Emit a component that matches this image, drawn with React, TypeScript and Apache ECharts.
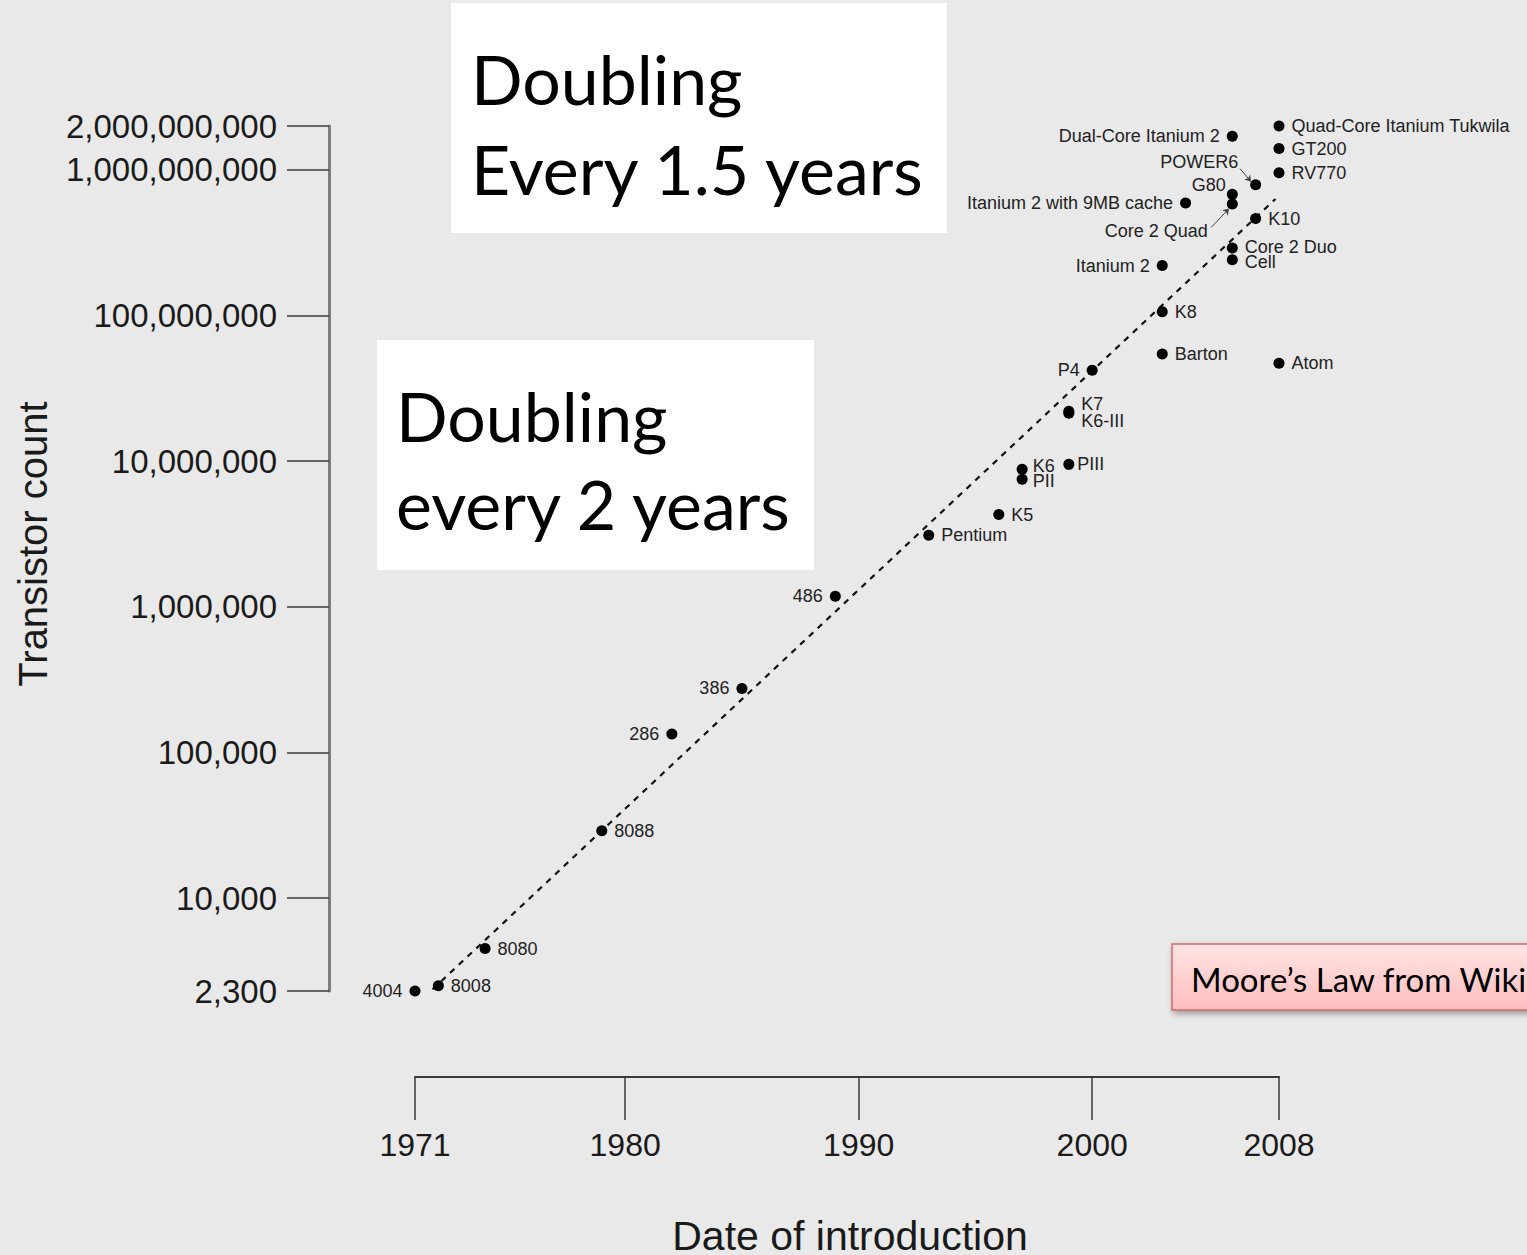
import React, { useEffect, useRef } from "react";
import * as echarts from "echarts";

// Microprocessor / GPU transistor counts by year of introduction
const chipNames = [
  "4004", "8008", "8080", "8088", "286", "386", "486", "Pentium", "K5", "K6",
  "PII", "PIII", "K7", "K6-III", "P4", "Barton", "K8", "Itanium 2", "Atom",
  "Itanium 2 with 9MB cache", "Dual-Core Itanium 2", "Quad-Core Itanium Tukwila",
  "GT200", "RV770", "POWER6", "G80", "Core 2 Quad", "K10", "Core 2 Duo", "Cell",
];
const introYears = [
  1971, 1972, 1974, 1979, 1982, 1985, 1989, 1993, 1996, 1997,
  1997, 1999, 1999, 1999, 2000, 2003, 2003, 2003, 2008,
  2004, 2006, 2008,
  2008, 2008, 2007, 2006, 2006, 2007, 2006, 2006,
];
const transistorCounts = [
  2300, 2500, 4500, 29000, 134000, 275000, 1180000, 3100000, 4300000, 8800000,
  7500000, 9500000, 22000000, 21300000, 42000000, 54300000, 105900000, 220000000, 47000000,
  592000000, 1700000000, 2000000000,
  1400000000, 956000000, 789000000, 681000000, 582000000, 463000000, 291000000, 241000000,
];

// Dashed trend (doubling every ~2 years)
const trendYears = [1971, 2007.85];
const trendCounts = [1820, 631000000];

// Tick values
const yearTicks = [1971, 1980, 1990, 2000, 2008];
const countTicks = [2300, 10000, 100000, 1000000, 10000000, 100000000, 1000000000, 2000000000];

// Pointer arrows for crowded labels: [fromYear, fromCount, toYear, toCount]
const pointerArrows = [
  [2006.33, 1020000000, 2006.8, 830000000],
  [2005.09, 401000000, 2005.86, 542000000],
];

const leftLabels = new Set([
  "4004", "286", "386", "486", "P4", "Itanium 2", "Itanium 2 with 9MB cache",
  "Dual-Core Itanium 2", "POWER6", "G80", "Core 2 Quad",
]);
const labelOffsets: Record<string, [number, number]> = {
  POWER6: [-5, -23],
  G80: [6, -9],
  "Core 2 Quad": [-12, 27],
  K7: [0, -7],
  "K6-III": [0, 8],
  K6: [-2, -3],
  PII: [-2, 2],
  PIII: [-4, 0],
  "Core 2 Duo": [0, -1],
  Cell: [0, 2],
};

const sansFont = "'Liberation Sans', Arial, Helvetica, sans-serif";
const slideFont = "Lato, 'Open Sans', sans-serif";

export default function App() {
  const ref = useRef<HTMLDivElement>(null);

  useEffect(() => {
    if (!ref.current) return;
    const chart = echarts.init(ref.current, null, { renderer: "svg" });

    const points = chipNames.map((name, i) => {
      const left = leftLabels.has(name);
      return {
        name,
        value: [introYears[i], transistorCounts[i]],
        label: {
          position: left ? "left" : "right",
          offset: labelOffsets[name] || [0, 0],
        },
      };
    });

    const option: any = {
      animation: false,
      backgroundColor: "#e9e9e9",
      grid: { left: 415, right: 248, top: 126, bottom: 264, containLabel: false },
      xAxis: {
        type: "value",
        min: 1971,
        max: 2008,
        offset: 86,
        axisLine: { show: true, onZero: false, lineStyle: { color: "#3a3a3a", width: 2 } },
        axisTick: {
          show: true,
          length: 43,
          customValues: yearTicks,
          lineStyle: { color: "#3a3a3a", width: 1.5 },
        },
        axisLabel: {
          customValues: yearTicks,
          margin: 52,
          fontSize: 32,
          color: "#1a1a1a",
          fontFamily: sansFont,
          formatter: (v: number) => String(v),
        },
        splitLine: { show: false },
      },
      yAxis: {
        type: "log",
        logBase: 10,
        min: 2300,
        max: 2000000000,
        offset: 86,
        axisLine: { show: true, onZero: false, lineStyle: { color: "#7d7d7d", width: 3 } },
        axisTick: {
          show: true,
          length: 42,
          customValues: countTicks,
          lineStyle: { color: "#3a3a3a", width: 1.5 },
        },
        axisLabel: {
          customValues: countTicks,
          margin: 52,
          fontSize: 33,
          color: "#1a1a1a",
          fontFamily: sansFont,
          formatter: (v: number) => Math.round(v).toLocaleString("en-US"),
        },
        splitLine: { show: false },
        minorTick: { show: false },
      },
      series: [
        {
          type: "line",
          data: trendYears.map((y, i) => [y, trendCounts[i]]),
          showSymbol: false,
          symbol: "none",
          lineStyle: { color: "#111", width: 2.2, type: [6, 6] },
          z: 1,
          silent: true,
        },
        {
          type: "scatter",
          symbol: "circle",
          symbolSize: 11,
          itemStyle: { color: "#000", opacity: 1 },
          data: points,
          label: {
            show: true,
            formatter: "{b}",
            fontSize: 18,
            color: "#222",
            fontFamily: sansFont,
            distance: 7,
          },
          markLine: {
            silent: true,
            symbol: ["none", "arrow"],
            symbolSize: 6,
            label: { show: false },
            lineStyle: { type: "solid", color: "#444", width: 1 },
            data: pointerArrows.map((a) => [
              { coord: [a[0], a[1]] },
              { coord: [a[2], a[3]] },
            ]),
          },
          z: 3,
        },
      ],
      graphic: [
        {
          type: "rect",
          shape: { x: 451, y: 3, width: 496, height: 230 },
          style: { fill: "#ffffff" },
          z: 10,
        },
        {
          type: "text",
          x: 471,
          y: 78,
          z: 11,
          style: { text: "Doubling", fontSize: 68, fontFamily: slideFont, fill: "#000", align: "left", verticalAlign: "middle" },
        },
        {
          type: "text",
          x: 471,
          y: 168,
          z: 11,
          style: { text: "Every 1.5 years", fontSize: 68, fontFamily: slideFont, fill: "#000", align: "left", verticalAlign: "middle" },
        },
        {
          type: "rect",
          shape: { x: 377, y: 340, width: 437, height: 230 },
          style: { fill: "#ffffff" },
          z: 10,
        },
        {
          type: "text",
          x: 396,
          y: 415,
          z: 11,
          style: { text: "Doubling", fontSize: 68, fontFamily: slideFont, fill: "#000", align: "left", verticalAlign: "middle" },
        },
        {
          type: "text",
          x: 396,
          y: 503,
          z: 11,
          style: { text: "every 2 years", fontSize: 68, fontFamily: slideFont, fill: "#000", align: "left", verticalAlign: "middle" },
        },
        {
          type: "rect",
          shape: { x: 1172, y: 944, width: 420, height: 66 },
          style: {
            fill: new echarts.graphic.LinearGradient(0, 0, 0, 1, [
              { offset: 0, color: "#ffe4e4" },
              { offset: 1, color: "#ffbdbd" },
            ]),
            stroke: "#cf6b6b",
            lineWidth: 1.5,
            shadowBlur: 6,
            shadowOffsetX: 2,
            shadowOffsetY: 3,
            shadowColor: "rgba(0,0,0,0.35)",
          },
          z: 10,
        },
        {
          type: "text",
          x: 1191,
          y: 979,
          z: 11,
          style: { text: "Moore\u2019s Law from Wikipedia", fontSize: 33, fontFamily: slideFont, fill: "#000", align: "left", verticalAlign: "middle" },
        },
        {
          type: "text",
          x: 33,
          y: 544,
          rotation: Math.PI / 2,
          style: { text: "Transistor count", fontSize: 40, fontFamily: sansFont, fill: "#1a1a1a", align: "center", verticalAlign: "middle" },
        },
        {
          type: "text",
          x: 850,
          y: 1236,
          style: { text: "Date of introduction", fontSize: 41, fontFamily: sansFont, fill: "#1a1a1a", align: "center", verticalAlign: "middle" },
        },
      ],
    };

    chart.setOption(option);
    return () => chart.dispose();
  }, []);

  return (
    <div
      ref={ref}
      style={{ position: "absolute", left: 0, top: 0, width: 1527, height: 1255 }}
    />
  );
}
